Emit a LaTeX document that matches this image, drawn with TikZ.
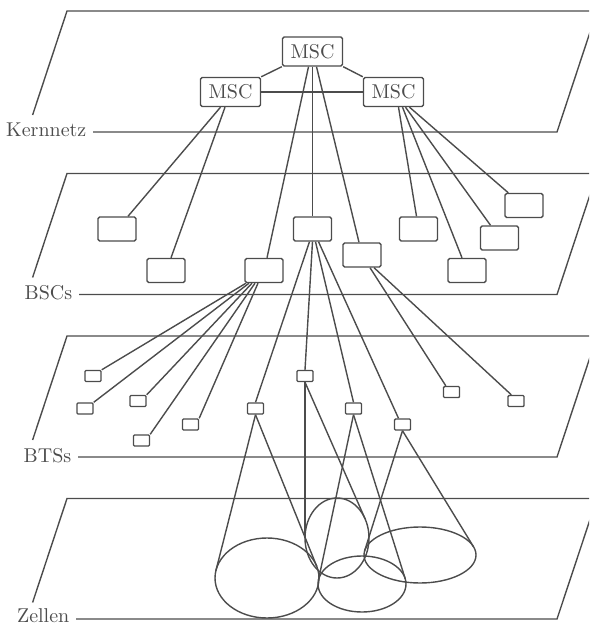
\documentclass[tikz,border=0pt]{standalone}
\usepackage{tikz}
\usetikzlibrary{shapes.geometric}

\tikzset{
  lbl/.style={inner sep=0pt, anchor=base east},
  msc/.style={draw, rounded corners=0.8pt, minimum width=30pt, minimum height=14.5pt, inner sep=0pt},
  bsc/.style={draw, rounded corners=0.8pt, minimum width=19pt, minimum height=12pt, inner sep=0pt},
  bts/.style={draw, rounded corners=0.5pt, minimum width=8pt, minimum height=5.5pt, inner sep=0pt},
  cell/.style={draw, ellipse, inner sep=0pt, outer sep=0pt},
}

\begin{document}
\begin{tikzpicture}[x=0.5pt, y=-0.5pt, line width=0.7pt, color=black!70]
        \clip (0,0) rectangle (589,625);

        % Ebenen
        \node[lbl] (kern) at (87,137) {Kernnetz};
        \draw (93,132) -- (557,132) -- (597,11) -- (67,11) -- (32.6,115);

        \node[lbl] (bscs) at (73,299.5) {BSCs};
        \draw (79,294.5) -- (557,294.5) -- (597,173.5) -- (67,173.5) -- (32.6,277.5);

        \node[lbl] (btss) at (72,462) {BTSs};
        \draw (78,457) -- (557,457) -- (597,336) -- (67,336) -- (32.6,440);

        \node[lbl] (zellen) at (70,622) {Zellen};
        \draw (76,619) -- (557,619) -- (597,498.5) -- (67,498.5) -- (32.6,602.5);

        % Kernnetz
        \node[msc] (msc0) at (312.5,51.5) {MSC};
        \node[msc] (msc1) at (230.5,92) {MSC};
        \node[msc] (msc2) at (393.5,92) {MSC};

        \draw (msc0.south west) -- (msc1.north east);
        \draw (msc0.south east) -- (msc2.north west);
        \draw (msc1) -- (msc2);

        % BSCs
        \node[bsc] (bsc1) at (117,229) {};
        \node[bsc] (bsc2) at (166,270.5) {};
        \node[bsc] (bsc3) at (264,270.5) {};
        \node[bsc] (bsc4) at (312.5,229) {};
        \node[bsc] (bsc5) at (362,255) {};
        \node[bsc] (bsc6) at (418.5,229) {};
        \node[bsc] (bsc7) at (467,270.5) {};
        \node[bsc] (bsc8) at (499.5,238) {};
        \node[bsc] (bsc9) at (524,205.5) {};

        \draw ([xshift=-5pt]msc1.south) -- ([xshift=5.5pt]bsc1.north);
        \draw ([xshift=-2.75pt]msc1.south) -- ([xshift=2.5pt]bsc2.north);
        \draw ([xshift=-2pt]msc0.south) -- ([xshift=1.5pt]bsc3.north);
        \draw (msc0.south) -- (bsc4.north);
        \draw ([xshift=2pt]msc0.south) -- ([xshift=-1.5pt]bsc5.north);
        \draw ([xshift=2.5pt]msc2.south) -- ([xshift=-1pt]bsc6.north);
        \draw ([xshift=4.5pt]msc2.south) -- ([xshift=-2.5pt]bsc7.north);
        \draw ([xshift=6pt]msc2.south) -- ([xshift=-4.5pt]bsc8.north);
        \draw ([xshift=8pt]msc2.south) -- ([xshift=2pt]bsc9.north west);

        % BTSs
        \node[bts] (bts1) at (93,376) {};
        \node[bts] (bts2) at (85,408.5) {};
        \node[bts] (bts3) at (138,401) {};
        \node[bts] (bts4) at (190.5,424.5) {};
        \node[bts] (bts5) at (141.5,440.5) {};
        \node[bts] (bts6) at (255.5,408.5) {};
        \node[bts] (bts7) at (305,376) {};
        \node[bts] (bts8) at (353.5,408.5) {};
        \node[bts] (bts9) at (402.5,424.5) {};
        \node[bts] (bts10) at (451.5,392) {};
        \node[bts] (bts11) at (516,401) {};

        \draw ([xshift=-9pt]bsc3.south) -- (bts1.north east);
        \draw ([xshift=-7.5pt]bsc3.south) -- (bts2.north east);
        \draw ([xshift=-6pt]bsc3.south) -- (bts3.north east);
        \draw ([xshift=-4.5pt]bsc3.south) -- (bts5.north east);
        \draw ([xshift=-3pt]bsc3.south) -- (bts4.north east);
        \draw ([xshift=-1.5pt]bsc4.south) -- (bts6.north);
        \draw (bsc4.south) -- (bts7.north);
        \draw ([xshift=1.5pt]bsc4.south) -- (bts8.north);
        \draw ([xshift=3pt]bsc4.south) -- ([xshift=-2pt]bts9.north);
        \draw ([xshift=4pt]bsc5.south) -- ([xshift=1.5pt]bts10.north west);
        \draw ([xshift=6pt]bsc5.south) -- ([xshift=2pt]bts11.north west);

        % Zellen
        \node[cell, minimum width=52pt, minimum height=40pt] (cell1) at (267,578) {};
        \node[cell, minimum width=32pt, minimum height=40pt] (cell2) at (337,538) {};
        \node[cell, minimum width=44pt, minimum height=28pt] (cell3) at (362,584) {};
        \node[cell, minimum width=56pt, minimum height=28pt] (cell4) at (420,555) {};

        \draw (bts6.south) -- (cell1.172);
        \draw (bts6.south) -- (cell1.13);
        \draw (bts7.south) -- (cell2.180);
        \draw (bts7.south) -- (cell2.34);
        \draw (bts8.south) -- (cell3.175);
        \draw (bts8.south) -- (cell3.7);
        \draw (bts9.south) -- (cell4.176);
        \draw (bts9.south) -- (cell4.9);
    \end{tikzpicture}
\end{document}
